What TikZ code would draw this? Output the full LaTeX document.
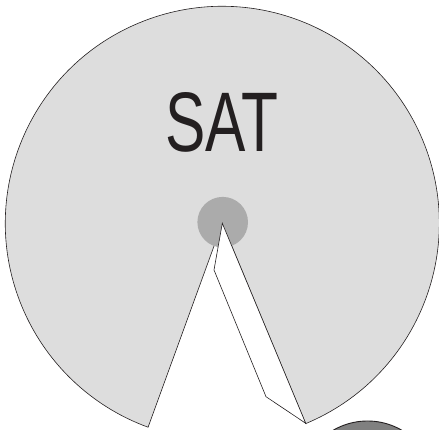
\documentclass[tikz,border=0pt]{standalone}
\usepackage{fontspec}
\newfontfamily\satfont{Liberation Sans}
\definecolor{pielight}{RGB}{221,221,221}
\definecolor{hubgray}{RGB}{171,171,171}
\definecolor{balldark}{RGB}{128,128,128}
\definecolor{inkdark}{RGB}{35,31,32}
\begin{document}
\begin{tikzpicture}[x=1pt,y=1pt,
  outline/.style={draw=inkdark,line width=0.6pt,line join=miter},
  piefill/.style={fill=pielight,outline},
  hubfill/.style={fill=hubgray,draw=none},
  sliver/.style={fill=white,outline},
  ballfill/.style={fill=balldark,draw=inkdark,line width=0.9pt}]
\clip (0,0) rectangle (439,430);
\coordinate (C) at (222.3,206.7);
\coordinate (P1) at (214,160);
\coordinate (P2) at (266,33.3);
\coordinate (P3) at (305.7,6.7);
% big pie
\path[piefill] (C) -- ++(-67.4:217) arc[start angle=-67.4,end angle=250,radius=217] -- cycle;
% hub
\path[hubfill] (222.7,207.8) circle[radius=25.3];
% white sliver
\path[sliver] (C) -- (P1) -- (P2) -- (P3) -- cycle;
% partial ball bottom right
\path[ballfill] (367.5,-59) circle[radius=68];
% label
\node[inner sep=0pt,text=inkdark] (sat) at (221.7,308) {\resizebox{113pt}{59pt}{\satfont SAT}};
\end{tikzpicture}
\end{document}
